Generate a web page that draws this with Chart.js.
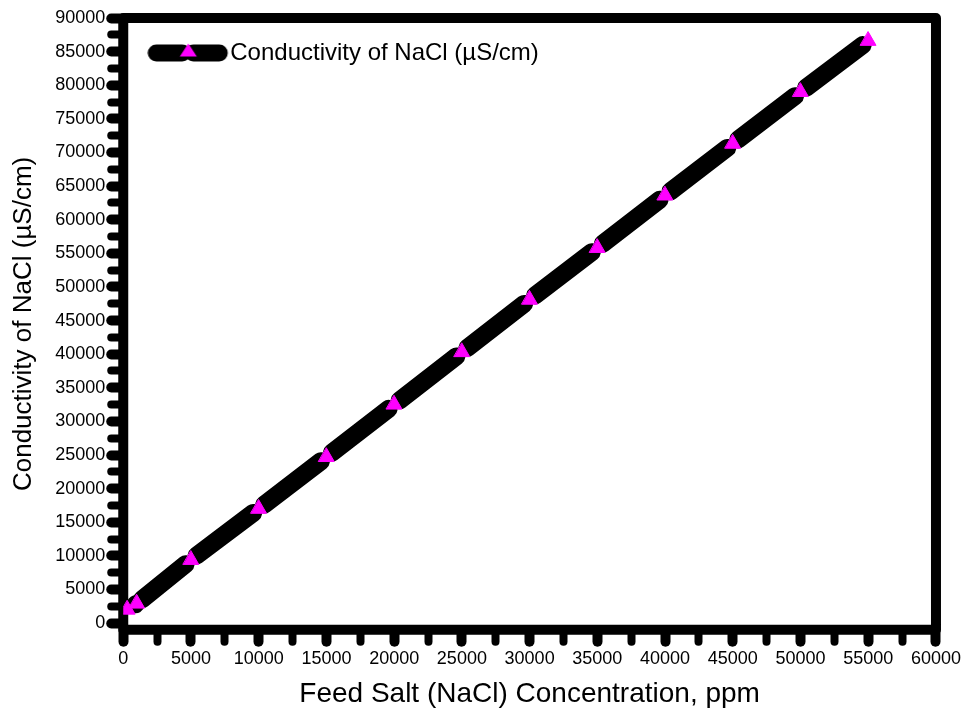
<!DOCTYPE html>
<html>
<head>
<meta charset="utf-8">
<title>Conductivity of NaCl</title>
<script src="https://cdn.jsdelivr.net/npm/chart.js@4.4.1/dist/chart.umd.min.js"></script>
<style>
  html, body { margin: 0; padding: 0; background: #fff; }
  #wrap { width: 967px; height: 717px; }
</style>
</head>
<body>
<div id="wrap"><canvas id="chart"></canvas></div>
<script>
// feed salt concentration (ppm) vs measured conductivity (uS/cm)
const concentration = [300, 1000, 5000, 10000, 15000, 20000, 25000, 30000, 35000, 40000, 45000, 50000, 55000];
const conductivity = [2000, 2900, 9400, 17000, 24700, 32500, 40300, 48100, 55800, 63600, 71300, 79000, 86600];

const xTickLabels = [0, 5000, 10000, 15000, 20000, 25000, 30000, 35000, 40000, 45000, 50000, 55000, 60000];
const yTickLabels = [0, 5000, 10000, 15000, 20000, 25000, 30000, 35000, 40000, 45000, 50000, 55000, 60000, 65000, 70000, 75000, 80000, 85000, 90000];

const seriesLabel = "Conductivity of NaCl (µS/cm)";
const xTitle = "Feed Salt (NaCl) Concentration, ppm";
const yTitle = "Conductivity of NaCl (µS/cm)";

const FONT = '"Liberation Sans", Arial, sans-serif';
const MAGENTA = "#ff00ff";
const GAP = 7; // half the break between line pieces at each point

Chart.defaults.font.family = FONT;
Chart.defaults.color = "#000";

// major ticks plus one minor tick half way between
function withMinor(major) {
  const out = [];
  major.forEach((v, i) => {
    out.push(v);
    if (i < major.length - 1) out.push((v + major[i + 1]) / 2);
  });
  return out;
}

// small picture for the legend: two thick pills with a triangle between
function legendSample() {
  const c = document.createElement("canvas");
  c.width = 88;
  c.height = 22;
  const g = c.getContext("2d");
  g.lineCap = "round";
  g.lineWidth = 17;
  g.strokeStyle = "#000";
  g.beginPath();
  g.moveTo(9, 11);
  g.lineTo(35, 11);
  g.moveTo(46, 11);
  g.lineTo(72, 11);
  g.stroke();
  g.fillStyle = MAGENTA;
  g.beginPath();
  g.moveTo(41, 1.5);
  g.lineTo(49.5, 14.5);
  g.lineTo(32.5, 14.5);
  g.closePath();
  g.fill();
  return c;
}

function segLen(c) {
  return Math.hypot(c.p1.x - c.p0.x, c.p1.y - c.p0.y);
}

const framePlugin = {
  id: "frame",
  beforeDraw(chart) {
    chart.ctx.lineCap = "round"; // round tick ends
  },
  beforeDatasetsDraw(chart) {
    const { ctx, chartArea: a } = chart;
    ctx.save();
    ctx.lineWidth = 10;
    ctx.lineJoin = "round";
    ctx.strokeStyle = "#000";
    ctx.strokeRect(a.left, a.top, a.right - a.left, a.bottom - a.top);
    ctx.restore();
  },
};

function axisOptions(min, max, majors, title, titleSize, titlePad) {
  return {
    type: "linear",
    min: min,
    max: max,
    afterBuildTicks: (scale) => {
      scale.ticks = withMinor(majors).map((value) => ({ value }));
    },
    border: { display: false },
    grid: {
      drawOnChartArea: false,
      drawTicks: true,
      tickLength: 12,
      tickColor: "#000",
      tickWidth: (c) => (c.tick && majors.includes(c.tick.value) ? 10 : 8),
    },
    ticks: {
      autoSkip: false,
      maxRotation: 0,
      padding: 6,
      color: "#000",
      font: { size: 18 },
      callback: (value) => (majors.includes(value) ? String(value) : ""),
    },
    title: {
      display: true,
      text: title,
      color: "#000",
      font: { size: titleSize },
      padding: titlePad,
    },
  };
}

new Chart(document.getElementById("chart"), {
  type: "line",
  data: {
    datasets: [
      {
        label: seriesLabel,
        data: concentration.map((x, i) => ({ x: x, y: conductivity[i] })),
        borderColor: "#000",
        borderWidth: 18,
        borderCapStyle: "round",
        borderJoinStyle: "round",
        tension: 0,
        fill: false,
        pointStyle: "triangle",
        pointRadius: 9,
        pointBackgroundColor: MAGENTA,
        pointBorderColor: MAGENTA,
        pointBorderWidth: 1,
        segment: {
          borderDash: (c) => [Math.max(segLen(c) - 2 * GAP, 0.1), 2 * GAP],
          borderDashOffset: (c) => segLen(c) - GAP,
        },
      },
    ],
  },
  options: {
    responsive: true,
    maintainAspectRatio: false,
    animation: false,
    layout: { padding: { top: 18, right: 27, bottom: 1, left: 4 } },
    scales: {
      x: axisOptions(0, 60000, xTickLabels, xTitle, 28, { top: 2, bottom: 5 }),
      y: axisOptions(-1000, 90000, yTickLabels, yTitle, 26, { top: 4, bottom: 10 }),
    },
    plugins: {
      tooltip: { enabled: false },
      legend: {
        position: "chartArea",
        align: "start",
        labels: {
          usePointStyle: true,
          pointStyle: legendSample(),
          pointStyleWidth: 54,
          padding: 41,
          color: "#000",
          font: { size: 24 },
        },
      },
    },
  },
  plugins: [framePlugin],
});
</script>
</body>
</html>
